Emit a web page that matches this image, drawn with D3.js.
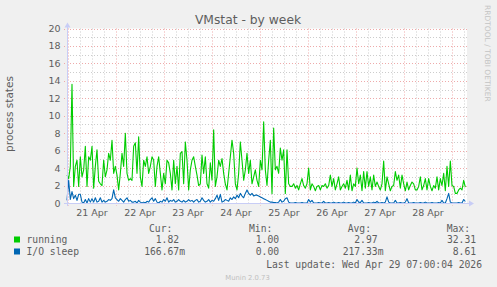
<!DOCTYPE html>
<html><head><meta charset="utf-8">
<script src="https://cdn.jsdelivr.net/npm/d3@7"></script>
<style>
html,body{margin:0;padding:0;background:#F0F0F0;}
svg{display:block;}
</style></head>
<body>
<script>
// ---- data ----
const startTime = Date.UTC(2026, 3, 20, 23, 30);
const endTime = Date.UTC(2026, 3, 29, 7, 30);
const stepMinutes = 50;
const running = [
3.2,2.8,4.2,13.6,1.9,4.2,4.9,1.9,5.3,3.0,3.8,6.5,1.9,5.3,4.9,6.5,1.7,4.2,6.1,2.5,
2.2,2.0,4.9,3.0,3.8,5.7,4.9,7.2,3.4,4.2,3.2,1.5,3.4,5.7,4.2,8.0,3.4,2.6,2.8,2.6,
6.5,6.9,3.4,7.6,3.0,1.9,4.9,4.2,5.3,3.4,4.2,5.3,4.9,1.9,4.2,5.3,3.4,1.5,3.4,2.2,
4.9,4.6,3.4,1.5,4.9,2.2,4.2,1.5,
5.7,5.9,2.2,7.0,4.9,1.5,3.8,4.9,5.3,4.2,3.2,2.0,2.2,5.5,3.4,5.3,2.2,1.7,4.6,2.6,
8.4,1.9,3.0,4.9,4.2,5.1,3.4,2.2,1.5,3.4,5.3,7.2,5.7,2.2,1.5,3.4,7.0,4.9,2.6,3.8,
5.7,3.4,4.9,2.2,3.0,3.8,2.6,1.9,4.9,3.8,9.3,3.8,2.0,4.9,7.2,1.1,8.6,3.8,4.2,3.4,
6.3,4.9,6.1,1.1,6.1,2.2,1.9,
1.9,2.2,1.7,2.0,1.5,2.2,2.8,2.0,1.7,2.2,4.0,1.5,2.2,1.9,1.4,1.9,2.0,1.5,2.0,1.9,
2.2,1.7,2.0,3.2,1.9,2.8,1.5,2.2,3.0,1.5,1.9,2.2,1.7,2.6,1.5,3.2,1.4,2.2,1.9,4.0,
2.2,3.2,1.4,3.6,1.7,3.6,1.9,3.0,1.5,3.2,1.9,2.4,1.9,1.5,2.2,
4.8,1.4,3.0,2.2,1.4,1.9,2.0,3.6,2.6,3.2,1.7,3.2,2.2,1.4,2.4,1.5,2.0,2.4,2.2,1.5,
1.5,1.9,3.0,1.5,2.0,2.8,1.5,2.8,1.9,1.4,2.0,1.7,3.0,1.5,2.8,2.0,3.4,1.4,4.2,1.9,
4.8,2.0,1.9,1.1,1.1,1.5,1.7,1.5,2.6,1.82
];
const ioSleep = [
0.3,2.6,0.4,1.3,0.5,0.9,0.3,1.0,1.0,0.1, 0,0.4,0,0.5,0.1,0.5,0.1,0.6,0.1,0.2,
0.6,0.1,0.3,0.1,0.2,0.4,0.3,0.5,1.5,0.6, 0.4,0.2,0.5,0.3,0.1,0.4,0.6,0.2,0.3,0.1,
0.1,0.2,0,0.3,0.1,0,0.1,0,0.2,0.1, 0.4,0.6,0.2,0.5,0.1,0,0.2,0.1,0.4,0.2,
0.6,0.1,0.3,0.2,0.4,0.1,0.2,0.4,0.2,0.1, 0.3,0.1,0.2,0.4,0.2,0.3,0.1,0.3,0.4,0.1,
0.2,0.6,0.3,0.1,0.2,0.4,0.1,0.3,0.2,0.5, 0.9,0.3,1.0,0.1,0.2,0.4,0.3,0.2,0.6,0.4,
0.7,0.5,0.9,0.6,1.1,0.8,0.6,1.1,1.5,1.1, 0.9,1.1,0.8,0.9,0.9,0.8,0.7,0.6,0.5,0.4,
0.3,0.2,0.1,0.1,0.05,0.05,0,0.1,0.4,0.1, 0.2,0.5,0.6,0.1,0,0,0,0.05,0,0,
0,0.05,0,0,0,0.4,0.1,0.3,0,0, 0,0.05,0,0,0.2,0,0,0.05,0,0,
0.1,0,0,0.05,0,0,0.1,0,0,0.05, 0,0,0.1,0,0.4,0.1,0.05,0.3,0,0,
0,0.05,0,0,0.1,0,0.2,0,0,0.05, 0,0.1,0.7,0.1,0,0,0,0.3,0,0,
0.05,0,0,0.1,0.5,0,0,0,0.05,0, 0,0,0.05,0,0,0.1,0,0,0,0.05,
0,0,0,0.05,0,0.3,0,0,0.5,1.1, 0.1,0,0,0,0,0.05,0,0,0.4,0.17
];
const seriesNames = ["running", "I/O sleep"];
const seriesColors = ["#00CC00", "#0066B3"];
const statHeaders = ["Cur:", "Min:", "Avg:", "Max:"];
const statsRunning = ["1.82", "1.00", "2.97", "32.31"];
const statsIoSleep = ["166.67m", "0.00", "217.33m", "8.61"];
const yTickValues = [0,2,4,6,8,10,12,14,16,18,20];
const xTickLabels = ["21 Apr","22 Apr","23 Apr","24 Apr","25 Apr","26 Apr","27 Apr","28 Apr"];
const titleText = "VMstat - by week";
const yAxisTitle = "process states";
const lastUpdate = "Last update: Wed Apr 29 07:00:04 2026";
const footer = "Munin 2.0.73";
const watermark = "RRDTOOL / TOBI OETIKER";

// ---- drawing ----
const W = 497, H = 287;
const L = 67, R = 467, T = 28.5, B = 203;
const svg = d3.select("body").append("svg").attr("width", W).attr("height", H);
svg.append("rect").attr("width", W).attr("height", H).attr("fill", "#F0F0F0");

const x = d3.scaleUtc().domain([new Date(startTime), new Date(endTime)]).range([L, R]);
const y = d3.scaleLinear().domain([0, 20]).range([B, T]);
const times = running.map((_, i) => new Date(startTime + i * stepMinutes * 60000));

svg.append("rect").attr("x", L).attr("y", T).attr("width", R - L).attr("height", B - T).attr("fill", "#FFFFFF");

const px = v => Math.round(v) + 0.5;
const grid = svg.append("g");
// minor horizontal
d3.range(1, 20, 1).filter(v => v % 2).forEach(v => {
  grid.append("line").attr("x1", L).attr("x2", R).attr("y1", px(y(v))).attr("y2", px(y(v)))
    .attr("stroke", "#CCCCCC").attr("stroke-dasharray", "1,2");
});
// minor vertical (6h)
d3.utcHour.every(6).range(new Date(startTime), new Date(endTime)).filter(d => d.getUTCHours() !== 0).forEach(d => {
  grid.append("line").attr("y1", T).attr("y2", B).attr("x1", px(x(d))).attr("x2", px(x(d)))
    .attr("stroke", "#CCCCCC").attr("stroke-dasharray", "1,2");
});
// major horizontal
yTickValues.forEach(v => {
  grid.append("line").attr("x1", L - 3).attr("x2", R + 2).attr("y1", px(y(v))).attr("y2", px(y(v)))
    .attr("stroke", "#EEAAAA").attr("stroke-dasharray", "1,2");
});
// major vertical (days)
const days = d3.utcDay.range(new Date(startTime), new Date(endTime));
days.forEach(d => {
  grid.append("line").attr("y1", T).attr("y2", B + 3).attr("x1", px(x(d))).attr("x2", px(x(d)))
    .attr("stroke", "#EEAAAA").attr("stroke-dasharray", "1,2");
});

// series lines
const line = d3.line().x((d, i) => x(times[i])).y(d => y(d));
[running, ioSleep].forEach((s, k) => {
  svg.append("path").datum(s).attr("d", line).attr("fill", "none")
    .attr("stroke", seriesColors[k]).attr("stroke-width", 1.1).attr("stroke-linejoin", "round");
});

// axes (rrdtool style)
const axisColor = "#C8CDF6";
svg.append("line").attr("x1", L - 3).attr("x2", R + 3).attr("y1", px(B)).attr("y2", px(B)).attr("stroke", axisColor);
svg.append("line").attr("x1", px(L)).attr("x2", px(L)).attr("y1", B + 3).attr("y2", T - 3).attr("stroke", axisColor);
svg.append("path").attr("d", `M${R + 2},${B - 2.5}L${R + 7},${B + 0.5}L${R + 2},${B + 3.5}Z`).attr("fill", axisColor);
svg.append("path").attr("d", `M${L - 2.5},${T - 1}L${L + 0.5},${T - 6}L${L + 3.5},${T - 1}Z`).attr("fill", axisColor);

const fontCol = "#5E5E5E";
const sans = "'DejaVu Sans', sans-serif";
const mono = "'DejaVu Sans Mono', monospace";

// y tick labels
yTickValues.forEach(v => {
  svg.append("text").attr("x", 60.5).attr("y", y(v) + 3.5).attr("text-anchor", "end")
    .attr("font-family", sans).attr("font-size", 9.5).attr("fill", fontCol).text(v);
});
// x tick labels at noon
days.forEach((d, i) => {
  if (i >= xTickLabels.length) return;
  const noon = new Date(d.getTime() + 12 * 3600000);
  svg.append("text").attr("x", x(noon)).attr("y", 216).attr("text-anchor", "middle")
    .attr("font-family", sans).attr("font-size", 9.5).attr("fill", fontCol).text(xTickLabels[i]);
});

// title
svg.append("text").attr("x", 248).attr("y", 24).attr("text-anchor", "middle")
  .attr("font-family", sans).attr("font-size", 12.3).attr("fill", fontCol).text(titleText);
// y axis title
svg.append("text").attr("transform", "translate(13,114) rotate(-90)").attr("text-anchor", "middle")
  .attr("font-family", sans).attr("font-size", 10.5).attr("fill", fontCol).text(yAxisTitle);
// watermark
svg.append("text").attr("transform", "translate(485,5) rotate(90)")
  .attr("font-family", sans).attr("font-size", 7.5).attr("fill", "#C4C4C4").text(watermark);

// legend
const cw = 5.87;
const headerX = [149, 249, 347.7, 446.7];
const colEnd = [185, 285, 383.5, 482];
statHeaders.forEach((h, i) => {
  svg.append("text").attr("x", headerX[i]).attr("y", 231.5).attr("font-family", mono)
    .attr("font-size", 9.7).attr("fill", fontCol).text(h);
});
[statsRunning, statsIoSleep].forEach((row, k) => {
  const by = 243 + k * 12;
  svg.append("rect").attr("x", 14).attr("y", by - 6.5).attr("width", 6).attr("height", 6).attr("fill", seriesColors[k]);
  svg.append("text").attr("x", 26.5).attr("y", by).attr("font-family", mono).attr("font-size", 9.7)
    .attr("fill", fontCol).text(seriesNames[k]);
  row.forEach((v, i) => {
    const hasSuffix = /[a-zA-Z]$/.test(v);
    svg.append("text").attr("x", colEnd[i] - (hasSuffix ? 0 : cw)).attr("y", by).attr("text-anchor", "end")
      .attr("font-family", mono).attr("font-size", 9.7).attr("fill", fontCol).text(v);
  });
});
svg.append("text").attr("x", 482).attr("y", 267.5).attr("text-anchor", "end").attr("font-family", mono)
  .attr("font-size", 9.7).attr("fill", fontCol).text(lastUpdate);
svg.append("text").attr("x", 247.5).attr("y", 279.5).attr("text-anchor", "middle").attr("font-family", sans)
  .attr("font-size", 6.8).attr("fill", "#C0C0C0").text(footer);
</script>
</body></html>
